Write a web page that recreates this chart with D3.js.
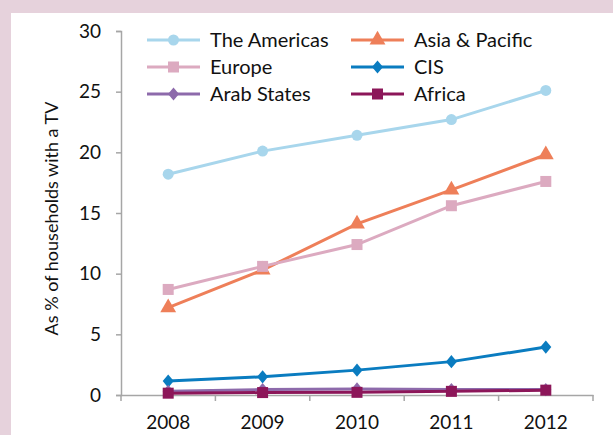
<!DOCTYPE html>
<html><head><meta charset="utf-8">
<script src="https://cdn.jsdelivr.net/npm/d3@7"></script>
<style>
html,body{margin:0;padding:0;background:#e6d2dc;}
svg{display:block;}
</style></head>
<body>
<svg id="chart" width="613" height="435"></svg>
<script>
const years = ["2008","2009","2010","2011","2012"];
const yTicks = [0,5,10,15,20,25,30];
const seriesNames = ["The Americas","Asia & Pacific","Europe","CIS","Arab States","Africa"];
const americas = [18.2,20.1,21.4,22.7,25.1];
const asiaPacific = [7.2,10.3,14.1,16.9,19.8];
const europe = [8.7,10.6,12.4,15.6,17.6];
const cis = [1.15,1.5,2.05,2.75,3.95];
const arabStates = [0.3,0.45,0.5,0.45,0.45];
const africa = [0.15,0.2,0.22,0.3,0.4];
const yLabel = "As % of households with a TV";

const series = [
  {name:seriesNames[0], values:americas, color:"#a8d6ec", marker:"circle"},
  {name:seriesNames[1], values:asiaPacific, color:"#ee7f59", marker:"triangle"},
  {name:seriesNames[2], values:europe, color:"#dcaac0", marker:"square"},
  {name:seriesNames[3], values:cis, color:"#0a7cc0", marker:"diamond"},
  {name:seriesNames[4], values:arabStates, color:"#8d6aab", marker:"diamond"},
  {name:seriesNames[5], values:africa, color:"#8c1659", marker:"square"}
];

const svg = d3.select("#chart");
svg.append("rect").attr("x",11).attr("y",13).attr("width",602).attr("height",422).attr("fill","#ffffff");

const font = "Lato, 'Open Sans', sans-serif";
const mLeft=121, mRight=593, mTop=31, mBottom=395;
const x = d3.scaleBand().domain(years).range([mLeft,mRight]);
const y = d3.scaleLinear().domain([0,30]).range([mBottom,mTop]);

const axisColor = "#a6a6a6";
const gy = svg.append("g").attr("transform",`translate(${mLeft},0)`)
  .call(d3.axisLeft(y).tickValues(yTicks).tickSize(5).tickPadding(15));
gy.select(".domain").attr("stroke",axisColor).attr("stroke-width",1.5);
gy.selectAll(".tick line").attr("stroke",axisColor).attr("stroke-width",1.5);
gy.selectAll(".tick text").attr("font-family",font).attr("font-size",19).attr("fill","#111");

const gx = svg.append("g").attr("transform",`translate(0,${mBottom})`)
  .call(d3.axisBottom(x).tickSize(0).tickPadding(21));
gx.select(".domain").attr("stroke",axisColor).attr("stroke-width",1.5);
gx.selectAll(".tick text").attr("font-family",font).attr("font-size",19).attr("fill","#111");
const bounds = years.map(d=>x(d)).concat([x(years[years.length-1])+x.bandwidth()]);
gx.selectAll(".bt").data(bounds).join("line").attr("class","bt")
  .attr("x1",d=>d).attr("x2",d=>d).attr("y1",0).attr("y2",6)
  .attr("stroke",axisColor).attr("stroke-width",1.5);

svg.append("text").attr("transform",`translate(58,218.5) rotate(-90)`)
  .attr("text-anchor","middle").attr("font-family",font).attr("font-size",18).attr("fill","#111")
  .text(yLabel);

function drawMarker(g, type, color, cx, cy, s){
  if(type==="circle") g.append("circle").attr("cx",cx).attr("cy",cy).attr("r",s*0.5).attr("fill",color);
  else if(type==="square") g.append("rect").attr("x",cx-s*0.5).attr("y",cy-s*0.5).attr("width",s).attr("height",s).attr("fill",color);
  else if(type==="triangle") g.append("path").attr("d",d3.symbol().type(d3.symbolTriangle).size(s*s*0.9)()).attr("transform",`translate(${cx},${cy})`).attr("fill",color);
  else if(type==="diamond") g.append("path").attr("d",`M0,${-s*0.6}L${s*0.5},0L0,${s*0.6}L${-s*0.5},0Z`).attr("transform",`translate(${cx},${cy})`).attr("fill",color);
}

const cx = d => x(d)+x.bandwidth()/2;
const line = d3.line().x((v,i)=>cx(years[i])).y(v=>y(v));
const plot = svg.append("g");
series.forEach(s=>{
  const g = plot.append("g");
  g.append("path").attr("d",line(s.values)).attr("fill","none").attr("stroke",s.color).attr("stroke-width",3);
  s.values.forEach((v,i)=>drawMarker(g,s.marker,s.color,cx(years[i]),y(v),11));
});

const legendPos = [[147,40],[351,40],[147,67],[351,67],[147,94],[351,94]];
const lg = svg.append("g");
series.forEach((s,i)=>{
  const [lx,ly] = legendPos[i];
  lg.append("line").attr("x1",lx).attr("x2",lx+53).attr("y1",ly).attr("y2",ly).attr("stroke",s.color).attr("stroke-width",3);
  drawMarker(lg,s.marker,s.color,lx+26.5,ly,11);
  lg.append("text").attr("x",lx+63).attr("y",ly).attr("dy","0.35em").attr("font-family",font).attr("font-size",20).attr("fill","#111").text(s.name);
});
</script>
</body></html>
